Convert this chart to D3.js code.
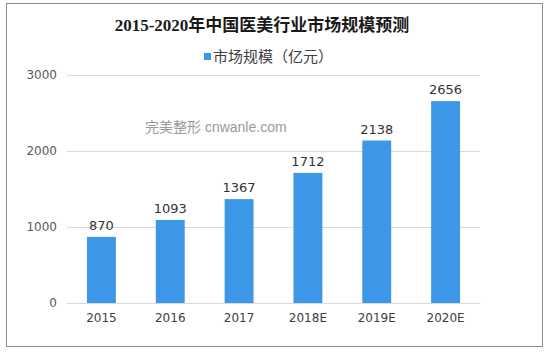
<!DOCTYPE html>
<html>
<head>
<meta charset="utf-8">
<script src="https://cdn.jsdelivr.net/npm/d3@7"></script>
<style>
  body { margin: 0; background: #fff; }
  text { font-family: "Liberation Sans", "Noto Sans CJK SC", sans-serif; }
</style>
</head>
<body>
<script>
// chart data
const years = ['2015', '2016', '2017', '2018E', '2019E', '2020E'];
const marketSize = [870, 1093, 1367, 1712, 2138, 2656];
const yTicks = [0, 1000, 2000, 3000];
const seriesName = '市场规模（亿元）';
const title = '2015-2020年中国医美行业市场规模预测';

const width = 546;
const height = 355;
const margin = { top: 75, right: 66, bottom: 52, left: 67 };
const innerWidth = width - margin.left - margin.right;
const innerHeight = height - margin.top - margin.bottom;
const barColor = '#3d97e9';

const svg = d3.select('body')
    .append('svg')
    .attr('width', width)
    .attr('height', height);

// outer frame
svg.append('rect')
    .attr('x', 6.5)
    .attr('y', 3.5)
    .attr('width', 536)
    .attr('height', 343)
    .attr('fill', 'none')
    .attr('stroke', '#8c8c8c')
    .attr('stroke-width', 1);

svg.append('text')
    .attr('x', 262)
    .attr('y', 31)
    .attr('text-anchor', 'middle')
    .style('font-size', '17px')
    .style('font-weight', 'bold')
    .style('font-family', '"Liberation Serif", "Noto Sans CJK SC", serif')
    .attr('fill', '#1a1a1a')
    .text(title);

// legend
svg.append('rect')
    .attr('x', 204)
    .attr('y', 53)
    .attr('width', 7)
    .attr('height', 7)
    .attr('fill', barColor);

svg.append('text')
    .attr('x', 213)
    .attr('y', 62)
    .style('font-size', '15px')
    .attr('fill', '#404040')
    .text(seriesName);

const g = svg.append('g')
    .attr('transform', `translate(${margin.left}, ${margin.top})`);

const xScale = d3.scaleBand()
    .domain(years)
    .range([0, innerWidth])
    .paddingInner(0.58)
    .paddingOuter(0.29);

const yScale = d3.scaleLinear()
    .domain([0, 3000])
    .range([innerHeight, 0]);

// grid lines
g.append('g')
    .call(d3.axisLeft(yScale)
        .tickValues(yTicks)
        .tickSize(-innerWidth)
        .tickFormat(''))
    .call(ax => ax.select('.domain').remove())
    .call(ax => ax.selectAll('line').attr('stroke', '#d9d9d9'));

// y axis labels
g.append('g')
    .call(d3.axisLeft(yScale)
        .tickValues(yTicks)
        .tickFormat(d3.format('d'))
        .tickSize(0)
        .tickPadding(10))
    .call(ax => ax.select('.domain').remove())
    .call(ax => ax.selectAll('text')
        .style('font-size', '12px')
        .style('font-family', '"DejaVu Sans", sans-serif')
        .attr('fill', '#595959'));

svg.append('text')
    .attr('x', 145)
    .attr('y', 132)
    .style('font-size', '14px')
    .attr('fill', '#9a9a9a')
    .text('完美整形 cnwanle.com');

// bars
g.selectAll('rect.bar')
    .data(marketSize)
    .enter()
    .append('rect')
    .attr('class', 'bar')
    .attr('x', (d, i) => xScale(years[i]))
    .attr('y', d => yScale(d))
    .attr('width', xScale.bandwidth())
    .attr('height', d => innerHeight - yScale(d))
    .attr('fill', barColor);

// value labels
g.selectAll('text.value')
    .data(marketSize)
    .enter()
    .append('text')
    .attr('class', 'value')
    .attr('x', (d, i) => xScale(years[i]) + xScale.bandwidth() / 2)
    .attr('y', d => yScale(d) - 7)
    .attr('text-anchor', 'middle')
    .style('font-size', '13px')
    .style('font-family', '"DejaVu Sans", sans-serif')
    .attr('fill', '#333')
    .text(d => d);

// x axis
g.append('g')
    .attr('transform', `translate(0, ${innerHeight})`)
    .call(d3.axisBottom(xScale).tickSize(0).tickPadding(10))
    .call(ax => ax.select('.domain').attr('stroke', '#d9d9d9'))
    .call(ax => ax.selectAll('text')
        .style('font-size', '12px')
        .style('font-family', '"DejaVu Sans", sans-serif')
        .attr('fill', '#404040'));
</script>
</body>
</html>
